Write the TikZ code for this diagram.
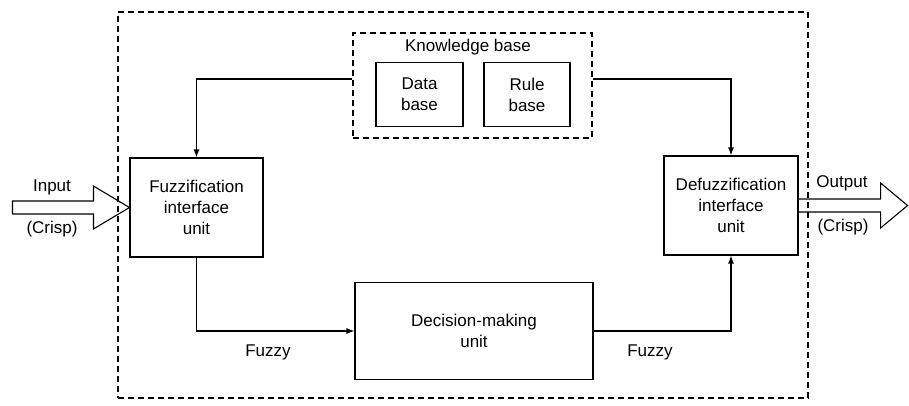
\documentclass[tikz,border=0pt]{standalone}
\usepackage{fontspec}
\setmainfont{Liberation Sans}
\usetikzlibrary{arrows.meta,calc}
\begin{document}
\begin{tikzpicture}[x=1pt,y=-1pt, font=\fontsize{17}{21}\selectfont,
 box/.style={draw, line width=1.1pt, align=center, inner sep=0pt},
 dbox/.style={draw, line width=1.1pt, dash pattern=on 6pt off 4pt, inner sep=0pt},
 arr/.style={line width=1.1pt, -{Latex[length=8pt,width=6pt]}},
 fat/.style={line width=1.1pt, line join=miter},
 lbl/.style={inner sep=0pt}]
\useasboundingbox (0,0) rectangle (909,405);
\node[dbox, minimum width=690pt, minimum height=386pt] (outer) at (463,205) {};
\node[dbox, minimum width=239pt, minimum height=105pt] (kb) at (472.5,85.5) {};
\node[lbl] (kbt) at (468,47) {Knowledge base};
\node[box, minimum width=87pt, minimum height=64pt] (data) at (419.5,94.5) {Data\\base};
\node[box, minimum width=86pt, minimum height=64pt] (rule) at (527,94.5) {Rule\\base};
\node[box, minimum width=133pt, minimum height=99pt] (fuzz) at (196.5,207.5) {Fuzzification\\interface\\unit};
\node[box, minimum width=134pt, minimum height=99pt] (defuzz) at (731,205.5) {Defuzzification\\interface\\unit};
\node[box, minimum width=238pt, minimum height=97pt] (dec) at (474,331) {Decision-making\\unit};
\node[lbl] (fz1) at (268,352) {Fuzzy};
\node[lbl] (fz2) at (650,352) {Fuzzy};
\node[lbl] (in) at (52,187) {Input};
\node[lbl] (inc) at (52,229) {(Crisp)};
\node[lbl] (out) at (842,183) {Output};
\node[lbl] (outc) at (843,227) {(Crisp)};
\draw[arr] ([yshift=6.5pt]kb.west) -| (fuzz.north);
\draw[arr] ([yshift=6.5pt]kb.east) -| (defuzz.north);
\draw[arr] (fuzz.south) |- (dec.west);
\draw[arr] (dec.east) -| (defuzz.south);
\draw[fat] (fuzz.west) -- ++(-36,-21.5) -- ++(0,15) -- ++(-81,0) -- ++(0,13) -- ++(81,0) -- ++(0,15) -- cycle;
\draw[fat] (defuzz.east) ++(0,-6.5) -- ++(82,0) -- ++(0,-16) -- ++(27,22.5) -- ++(-27,22.5) -- ++(0,-16) -- ++(-82,0);
\end{tikzpicture}
\end{document}
